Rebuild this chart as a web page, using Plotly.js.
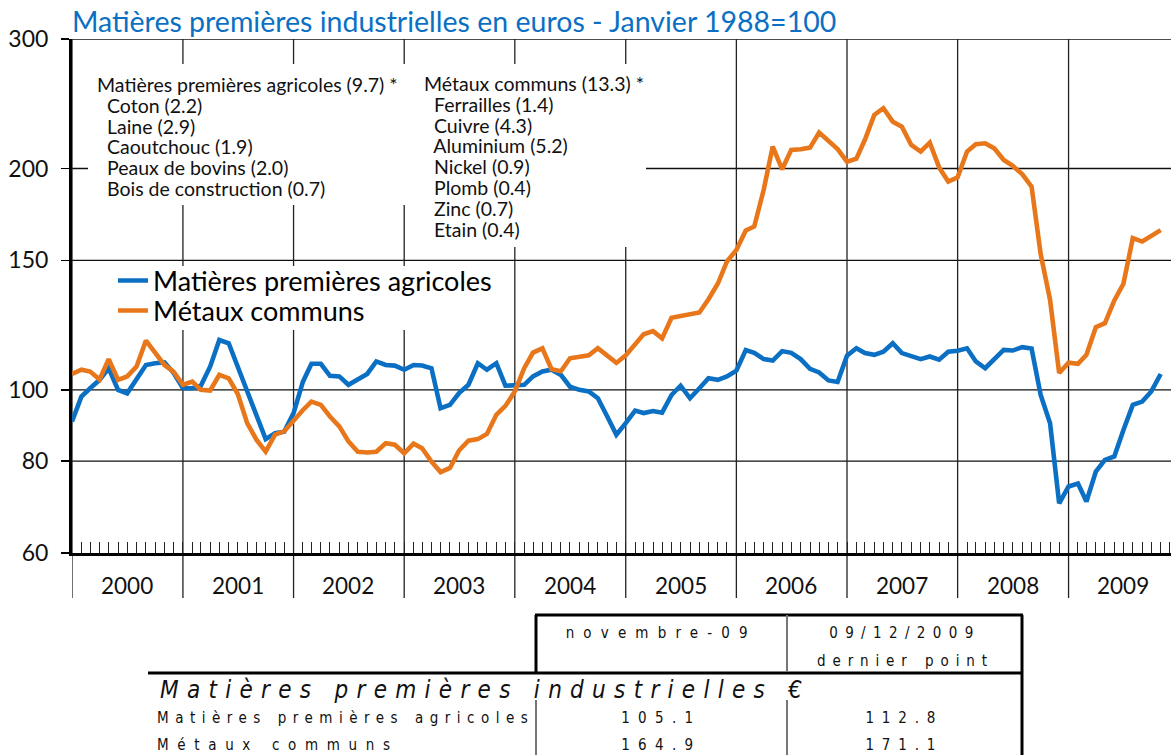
<!DOCTYPE html>
<html><head><meta charset="utf-8">
<script src="https://cdn.plot.ly/plotly-3.0.1.min.js"></script>
<style>html,body{margin:0;padding:0;background:#fff;} #chart{width:1171px;height:755px;}</style>
</head><body><div id="chart"></div>
<script>
// ---------------- data ----------------
const years = ['2000','2001','2002','2003','2004','2005','2006','2007','2008','2009'];
const yTicks = [60, 80, 100, 150, 200, 300];
const gridValues = [80, 100, 150, 200, 300];

const agricoles = [
  90.6, 97.9, 100.5, 103.2, 107.0, 100.0, 98.9, 103.5, 108.1, 108.7, 109.0, 105.5,
  100.5, 100.5, 101.3, 107.6, 116.9, 115.7, 107.4, 99.5, 93.0, 85.7, 87.3, 87.7,
  93.0, 102.6, 108.5, 108.5, 104.5, 104.3, 101.6, 103.4, 105.1, 109.3, 108.1, 107.9,
  106.5, 108.1, 107.9, 107.0, 94.4, 95.4, 99.0, 101.6, 108.7, 106.5, 108.7, 101.3,
  101.3, 101.6, 104.3, 105.9, 106.5, 104.8, 101.0, 100.0, 99.5, 97.4, 92.0, 86.9,
  90.1, 93.7, 93.0, 93.6, 93.1, 98.4, 101.3, 97.4, 100.5, 103.7, 103.2, 104.3,
  106.2, 113.3, 112.3, 110.1, 109.6, 112.9, 112.3, 110.1, 106.8, 105.6, 103.0, 102.5,
  111.3, 113.9, 112.2, 111.6, 112.7, 115.7, 112.2, 111.0, 110.1, 111.0, 109.9, 112.7,
  113.0, 113.9, 109.3, 107.0, 109.9, 113.3, 113.1, 114.3, 113.8, 98.4, 90.1, 70.1,
  73.9, 74.6, 70.5, 77.4, 80.3, 81.2, 88.2, 95.4, 96.4, 99.5, 105.1
];
const metaux = [
  105.1, 106.5, 105.9, 103.3, 110.1, 103.2, 104.3, 107.6, 116.7, 112.7, 108.1, 105.9,
  101.6, 102.6, 100.0, 99.8, 104.8, 103.7, 98.7, 90.1, 85.5, 82.4, 86.9, 87.8,
  91.0, 93.9, 96.4, 95.4, 92.0, 89.2, 85.1, 82.4, 82.2, 82.4, 84.6, 84.2,
  82.0, 84.5, 83.3, 79.9, 77.3, 78.3, 82.7, 85.3, 85.7, 87.1, 92.5, 95.1,
  99.5, 107.0, 112.4, 113.9, 106.7, 106.0, 110.4, 111.0, 111.4, 113.9, 111.5, 108.8,
  111.4, 115.5, 119.0, 120.2, 117.5, 125.3, 125.9, 126.5, 127.4, 132.8, 139.5, 149.5,
  155.0, 164.7, 166.8, 187.0, 214.2, 199.5, 212.0, 212.4, 213.5, 223.8, 218.5, 212.5,
  204.3, 206.2, 218.8, 236.5, 241.5, 231.6, 228.0, 215.3, 210.9, 216.9, 200.7, 192.0,
  194.6, 210.9, 215.8, 216.4, 213.0, 205.4, 201.6, 196.5, 189.0, 153.0, 132.5, 105.4,
  108.9, 108.5, 111.6, 121.7, 123.2, 132.3, 139.4, 160.8, 159.1, 162.0, 164.9
];
const seriesNames = ['Matières premières agricoles', 'Métaux communs'];
const agriHeader = 'Matières premières agricoles (9.7) *';
const agriItems = ['Coton (2.2)', 'Laine (2.9)', 'Caoutchouc (1.9)', 'Peaux de bovins (2.0)', 'Bois de construction (0.7)'];
const metalHeader = 'Métaux communs (13.3) *';
const metalItems = ['Ferrailles (1.4)', 'Cuivre (4.3)', 'Aluminium (5.2)', 'Nickel (0.9)', 'Plomb (0.4)', 'Zinc (0.7)', 'Etain (0.4)'];
const tableHeaders = ['novembre-09', '09/12/2009'];
const tableSubHeader = 'dernier point';
const tableTitle = 'Matières premières industrielles €';
const tableRows = ['Matières premières agricoles', 'Métaux communs'];
const tableNov = ['105.1', '164.9'];
const tableLast = ['112.8', '171.1'];

// month labels (x categories)
const months = agricoles.map((_, i) => {
  const y = 2000 + Math.floor(i / 12), m = (i % 12) + 1;
  return y + '-' + String(m).padStart(2, '0') + '-01';
});

// ---------------- layout helpers ----------------
const L = 72, T = 39, W = 1099, H = 514;
const px = x => (x - L) / W;
const py = y => (T + H - y) / H;
const BLUE = '#0B70C4', ORANGE = '#E8771B';
const FONT = 'Lato, "Open Sans", sans-serif';
const NARROW = '"Liberation Sans Narrow", "DejaVu Sans Condensed", "Arial Narrow", sans-serif';

const data = [
  {x: months, y: agricoles, name: seriesNames[0], type: 'scatter', mode: 'lines',
   line: {color: BLUE, width: 4.6}, legend: 'legend'},
  {x: months, y: metaux, name: seriesNames[1], type: 'scatter', mode: 'lines',
   line: {color: ORANGE, width: 4.6}, legend: 'legend2'}
];

const shapes = [];
gridValues.forEach(v => shapes.push({type: 'line', layer: 'below', xref: 'paper', yref: 'y',
  x0: 0, x1: 1, y0: v, y1: v, line: {color: '#111', width: 1.3}}));
years.forEach(yr => shapes.push({type: 'line', layer: 'below', xref: 'x', yref: 'paper',
  x0: yr + '-01-01', x1: yr + '-01-01', y0: py(598), y1: 1, line: {color: '#222', width: 1.3}}));
// white masks behind the text blocks
const mask = (x0, y0, x1, y1) => shapes.push({type: 'rect', layer: 'below', xref: 'paper', yref: 'paper',
  x0: px(x0), x1: px(x1), y0: py(y1), y1: py(y0), fillcolor: '#fff', line: {width: 0}});
mask(88, 64, 646, 205);
mask(410, 204, 646, 247);
mask(80, 266, 500, 330);
// table lines
const hl = (x0, x1, y, w, c) => shapes.push({type: 'line', xref: 'paper', yref: 'paper',
  x0: px(x0), x1: px(x1), y0: py(y), y1: py(y), line: {color: c, width: w}});
const vl = (x, y0, y1, w, c) => shapes.push({type: 'line', xref: 'paper', yref: 'paper',
  x0: px(x), x1: px(x), y0: py(y0), y1: py(y1), line: {color: c, width: w}});
hl(535, 1023, 615, 3, '#000');
hl(148, 1023, 673, 3, '#000');
vl(536, 615, 673, 3, '#000');
vl(787, 615, 672, 2, '#777');
vl(1022, 615, 755, 3, '#000');
vl(536, 700, 755, 2, '#777');
vl(787, 700, 755, 2, '#777');

const annotations = [];
years.forEach(yr => annotations.push({xref: 'x', yref: 'paper', x: yr + '-07-01', y: py(585),
  text: yr, showarrow: false, xanchor: 'center', yanchor: 'middle', font: {size: 22.5, family: FONT, color: '#111'}}));

// weight lists: one multi-line block per column (line pitch 1.3 x 16 px = 20.8 px, glyphs 19.5 px)
const INDENT = '\u00A0\u00A0';
const block = (header, items) => [header].concat(items.map(t => INDENT + t))
  .map(t => '<span style="font-size:19.5px">' + t + '</span>').join('<br>');
const blk = (x, yTop, yBottom, header, items) => annotations.push({xref: 'paper', yref: 'paper',
  x: px(x), y: py((yTop + yBottom) / 2), text: block(header, items), showarrow: false,
  xanchor: 'left', yanchor: 'middle', align: 'left', borderpad: 0,
  font: {size: 16, family: FONT, color: '#111'}});
blk(96, 84, 84 + 20.8 * agriItems.length, agriHeader, agriItems);
blk(423, 84, 84 + 20.8 * metalItems.length, metalHeader, metalItems);

// table texts (with target widths for letter spacing)
const spacing = {};
const ttxt = (x, y, t, size, anchor, target, italic) => {
  spacing[annotations.length] = target;
  annotations.push({xref: 'paper', yref: 'paper', x: px(x), y: py(y),
    text: italic ? '<i>' + t + '</i>' : t, showarrow: false, xanchor: anchor, yanchor: 'middle',
    align: anchor === 'left' ? 'left' : 'center', borderpad: 0,
    font: {size: size, family: NARROW, color: '#111'}});
};
ttxt(661, 633, tableHeaders[0], 15, 'center', 182);
ttxt(905, 633, tableHeaders[1], 15, 'center', 144);
ttxt(905, 661, tableSubHeader, 15, 'center', 170);
ttxt(159, 690, tableTitle, 24, 'left', 642, true);
tableRows.forEach((r, i) => {
  const y = 718 + i * 27;
  ttxt(156, y, r, 15, 'left', i === 0 ? 371 : 233);
  ttxt(661, y, tableNov[i], 15, 'center', 72);
  ttxt(904, y, tableLast[i], 15, 'center', 70);
});

const legendBase = {xanchor: 'left', yanchor: 'middle', bgcolor: 'rgba(0,0,0,0)',
  font: {size: 27, family: FONT, color: '#000'}, tracegroupgap: 0};

const layout = {
  width: 1171, height: 755,
  margin: {l: L, r: 0, t: T, b: 755 - T - H, pad: 0},
  paper_bgcolor: '#fff', plot_bgcolor: 'rgba(0,0,0,0)',
  font: {family: FONT, color: '#111'},
  title: {text: 'Matières premières industrielles en euros - Janvier 1988=100',
    xref: 'container', yref: 'container', x: 72 / 1171, xanchor: 'left', y: 1 - 22 / 755, yanchor: 'middle',
    font: {size: 28.5, family: FONT, color: BLUE}},
  showlegend: true,
  legend: Object.assign({x: px(113), y: py(281)}, legendBase),
  legend2: Object.assign({x: px(113), y: py(311)}, legendBase),
  xaxis: {type: 'date', range: ['2000-01-01', '2009-12-05'], showgrid: false, zeroline: false,
    showline: true, linewidth: 3, linecolor: '#000', ticks: 'inside', ticklen: 11, tickwidth: 1,
    tickcolor: '#222', dtick: 'M1', tick0: '2000-01-01', showticklabels: false, fixedrange: true},
  yaxis: {type: 'log', range: [Math.log10(60), Math.log10(300)], tickvals: yTicks,
    ticktext: yTicks.map(String), showgrid: false, zeroline: false, showline: true, linewidth: 3,
    linecolor: '#000', ticks: 'outside', ticklen: 8, tickwidth: 1.3, tickcolor: '#000',
    ticklabelstandoff: 8, tickfont: {size: 23, family: FONT, color: '#111'}, fixedrange: true},
  shapes: shapes,
  annotations: annotations
};

function spaceOut() {
  document.querySelectorAll('.annotation').forEach(g => {
    const idx = +g.getAttribute('data-index');
    const target = spacing[idx];
    if (!target) return;
    const t = g.querySelector('text');
    if (!t) return;
    const n = t.textContent.length;
    const nat = t.getComputedTextLength();
    const ls = Math.max(0, (target - nat) / Math.max(1, n - 1));
    t.style.letterSpacing = ls.toFixed(2) + 'px';
  });
}

Plotly.newPlot('chart', data, layout, {staticPlot: true, displayModeBar: false}).then(spaceOut);
</script>
</body></html>
